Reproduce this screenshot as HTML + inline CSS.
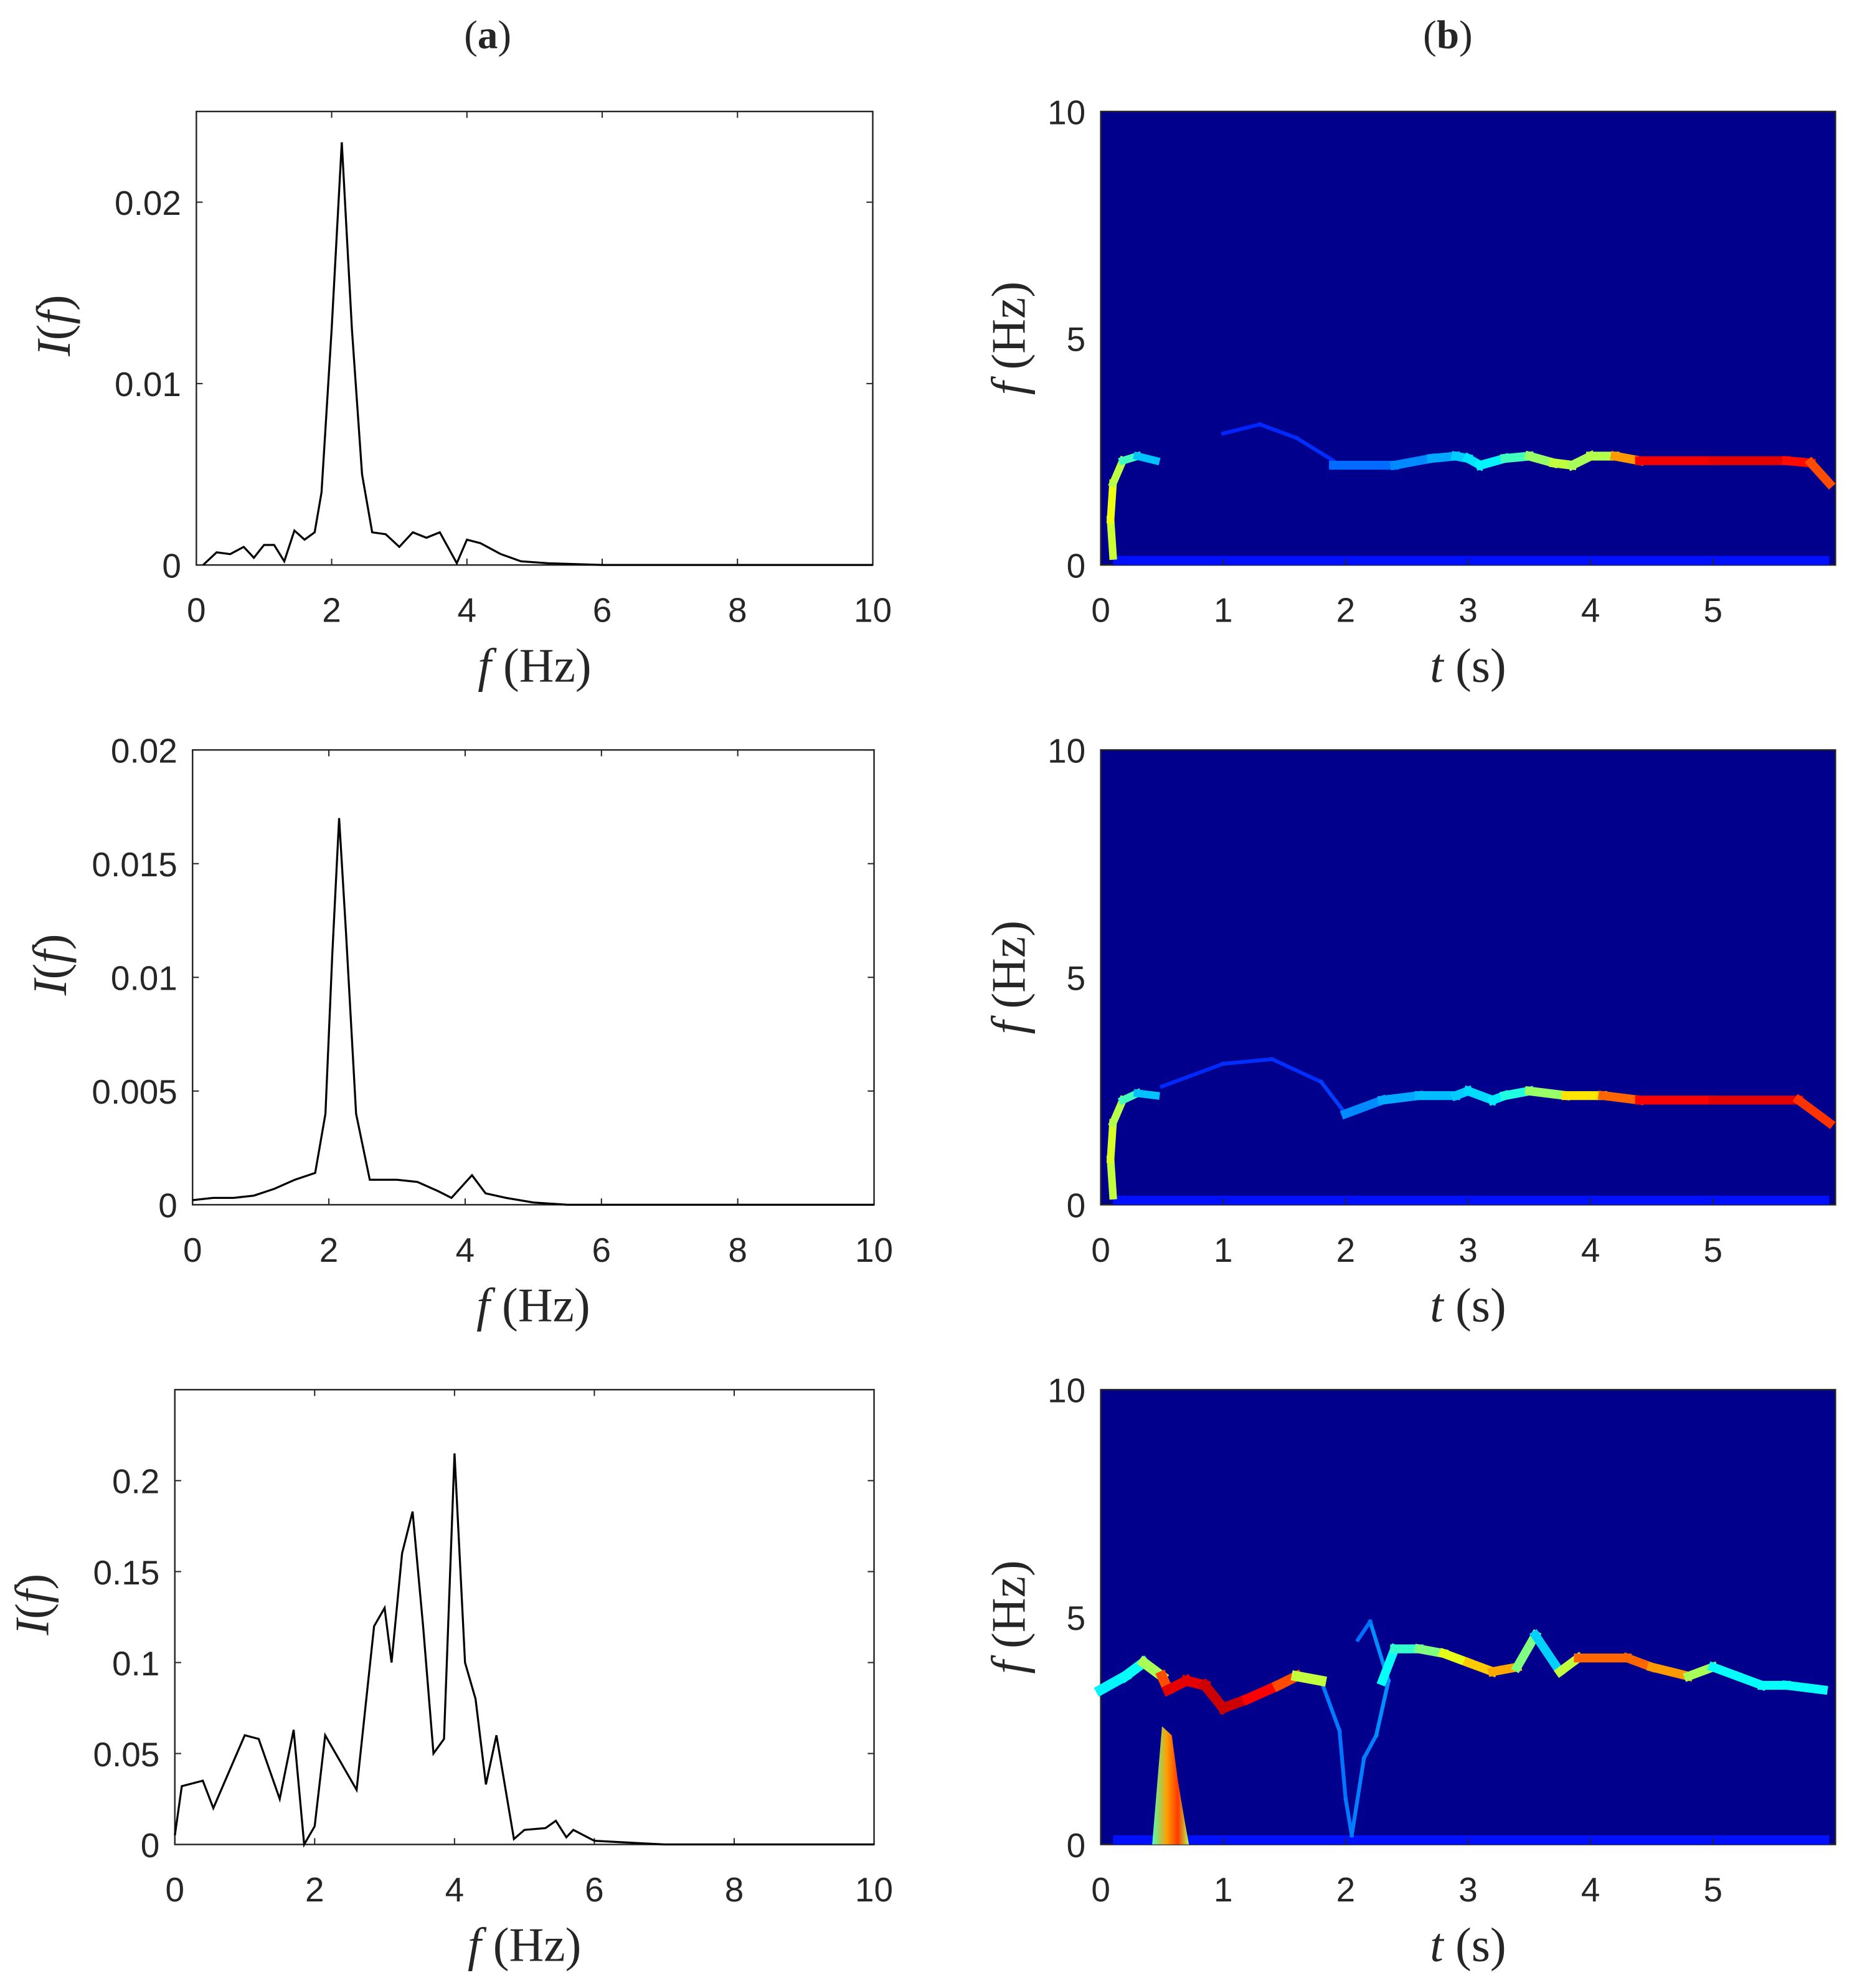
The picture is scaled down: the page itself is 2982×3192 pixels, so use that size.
<!DOCTYPE html>
<html><head><meta charset="utf-8"><style>
html,body{margin:0;padding:0;background:#fff;}
svg{display:block;}
text{font-family:"Liberation Sans",sans-serif;fill:#262626;}
.ser{font-family:"Liberation Serif",serif;}
</style></head><body>
<svg id="fig" width="2982" height="3192" viewBox="0 0 1466 1569.3" xmlns="http://www.w3.org/2000/svg">
<text class="ser" x="385" y="38" font-size="32" text-anchor="middle">(<tspan font-weight="bold">a</tspan>)</text>
<text class="ser" x="1143" y="38" font-size="32" text-anchor="middle">(<tspan font-weight="bold">b</tspan>)</text>
</svg>
<script>
// ---- spectrum data (a) ----
const a1F=[0.1,0.3,0.5,0.7,0.85,1,1.15,1.3,1.45,1.6,1.75,1.85,2.0,2.15,2.3,2.45,2.6,2.8,3.0,3.2,3.4,3.6,3.85,4.0,4.2,4.5,4.8,5.2,6,10];
const a1I=[0,0.0007,0.0006,0.001,0.0004,0.0011,0.0011,0.0002,0.0019,0.0014,0.0018,0.004,0.013,0.0233,0.013,0.005,0.0018,0.0017,0.001,0.0018,0.0015,0.0018,0.0001,0.0014,0.0012,0.0006,0.0002,0.0001,0,0];
const a2F=[0,0.3,0.6,0.9,1.2,1.5,1.8,1.95,2.05,2.15,2.25,2.4,2.6,3.0,3.3,3.6,3.8,4.1,4.3,4.6,5,5.5,10];
const a2I=[0.0002,0.0003,0.0003,0.0004,0.0007,0.0011,0.0014,0.004,0.011,0.017,0.012,0.004,0.0011,0.0011,0.001,0.0006,0.0003,0.0013,0.0005,0.0003,0.0001,0,0];
const a3F=[0,0.1,0.4,0.55,1.0,1.2,1.5,1.7,1.85,2.0,2.15,2.6,2.85,3.0,3.1,3.25,3.4,3.55,3.7,3.85,4.0,4.15,4.3,4.45,4.6,4.85,5.0,5.3,5.45,5.6,5.7,6.0,7,10];
const a3I=[0.005,0.032,0.035,0.02,0.06,0.058,0.025,0.063,0,0.01,0.06,0.03,0.12,0.13,0.1,0.16,0.183,0.12,0.05,0.058,0.215,0.1,0.08,0.033,0.06,0.003,0.008,0.009,0.013,0.004,0.008,0.002,0,0];
const a1Ticks=[0,0.01,0.02], a1TickLabels=["0","0.01","0.02"];
const a2Ticks=[0,0.005,0.01,0.015,0.02], a2TickLabels=["0","0.005","0.01","0.015","0.02"];
const a3Ticks=[0,0.05,0.1,0.15,0.2], a3TickLabels=["0","0.05","0.1","0.15","0.2"];
const fTicks=[0,2,4,6,8,10];
// ---- spectrogram ridges (b): t (s), f (Hz), intensity 0..1 ----
const b1T=[0.1,0.08,0.1,0.18,0.3,0.45], b1Fq=[0.2,1.0,1.8,2.3,2.4,2.3], b1V=[0.55,0.6,0.62,0.5,0.38,0.25];
const b1ArcT=[1.0,1.3,1.6,1.9], b1ArcF=[2.9,3.1,2.8,2.3], b1ArcV=[0.16,0.16,0.17,0.17];
const b1MT=[1.9,2.4,2.7,2.9,3.0,3.1,3.3,3.5,3.7,3.85,4.0,4.2,4.4,5.0,5.6,5.8,5.95], b1MF=[2.2,2.2,2.35,2.4,2.35,2.2,2.35,2.4,2.25,2.2,2.4,2.4,2.3,2.3,2.3,2.25,1.8], b1MV=[0.22,0.24,0.28,0.3,0.35,0.35,0.38,0.5,0.55,0.58,0.5,0.6,0.85,0.92,0.88,0.85,0.75];
const b2T=[0.1,0.08,0.1,0.18,0.3,0.45], b2Fq=[0.2,1.0,1.8,2.3,2.45,2.4], b2V=[0.55,0.58,0.6,0.5,0.38,0.25];
const b2ArcT=[0.5,1.0,1.4,1.8,2.0], b2ArcF=[2.6,3.1,3.2,2.7,2.0], b2ArcV=[0.16,0.17,0.17,0.17,0.2];
const b2MT=[2.0,2.3,2.6,2.9,3.0,3.2,3.3,3.5,3.8,4.1,4.4,5.0,5.7,5.95], b2MF=[2.0,2.3,2.4,2.4,2.5,2.3,2.4,2.5,2.4,2.4,2.3,2.3,2.3,1.8], b2MV=[0.24,0.28,0.3,0.32,0.33,0.35,0.36,0.45,0.6,0.7,0.85,0.9,0.9,0.75];
const b3T=[0,0.2,0.35,0.5,0.55,0.7,0.85,1.0,1.2,1.45,1.6,1.8], b3Fq=[3.4,3.7,4.0,3.7,3.4,3.6,3.5,3.0,3.2,3.5,3.7,3.6], b3V=[0.35,0.38,0.38,0.7,0.9,0.9,0.9,0.95,0.9,0.85,0.75,0.38];
const b3ArcT=[1.8,1.95,2.0,2.05,2.15,2.25,2.35,2.2,2.1], b3ArcF=[3.6,2.5,1.0,0.2,1.9,2.4,3.6,4.9,4.5], b3ArcV=[0.25,0.24,0.24,0.25,0.25,0.25,0.28,0.25,0.22];
const b3MT=[2.3,2.4,2.6,2.8,3.0,3.2,3.4,3.55,3.75,3.9,4.3,4.5,4.8,5.0,5.2,5.4,5.6,5.9], b3MF=[3.6,4.3,4.3,4.2,4.0,3.8,3.9,4.6,3.8,4.1,4.1,3.9,3.7,3.9,3.7,3.5,3.5,3.4], b3MV=[0.36,0.4,0.45,0.55,0.65,0.7,0.72,0.28,0.38,0.75,0.8,0.75,0.7,0.38,0.38,0.38,0.38,0.38];
const b3BlobT=[0.42,0.5,0.58,0.63,0.68,0.72,0.45], b3BlobF=[0,2.6,2.4,1.4,0.6,0,0];
const tTicks=[0,1,2,3,4,5], bTicks=[0,5,10];

const NS="http://www.w3.org/2000/svg";
const svg=document.getElementById('fig');
function el(tag,attrs,parent){const e=document.createElementNS(NS,tag);for(const k in attrs)e.setAttribute(k,attrs[k]);(parent||svg).appendChild(e);return e;}
function jet(v){v=Math.max(0,Math.min(1,v));const r=Math.max(0,Math.min(1,1.5-Math.abs(4*v-3))),g=Math.max(0,Math.min(1,1.5-Math.abs(4*v-2))),b=Math.max(0,Math.min(1,1.5-Math.abs(4*v-1)));return `rgb(${Math.round(r*255)},${Math.round(g*255)},${Math.round(b*255)})`;}

function lineAxes(name,L,R,T,B,ymax,F,I,ticks,labels){
  const sx=v=>L+(v/10)*(R-L), sy=v=>B-(v/ymax)*(B-T);
  const g=el('g',{});
  
  
  const fr=el('rect',{x:L,y:T,width:R-L,height:B-T,fill:'#fff',stroke:'#262626','stroke-width':1.2},g);
  
  
  fTicks.forEach(v=>{
    el('line',{x1:sx(v),x2:sx(v),y1:B,y2:B-5,stroke:'#262626'},g);
    el('line',{x1:sx(v),x2:sx(v),y1:T,y2:T+5,stroke:'#262626'},g);
    const t=el('text',{x:sx(v),y:B+45,'font-size':27,'text-anchor':'middle'},g);t.textContent=v;
    
    
  });
  ticks.forEach((v,i)=>{
    el('line',{x1:L,x2:L+5,y1:sy(v),y2:sy(v),stroke:'#262626'},g);
    el('line',{x1:R,x2:R-5,y1:sy(v),y2:sy(v),stroke:'#262626'},g);
    const t=el('text',{x:L-12,y:sy(v)+10,'font-size':27,'text-anchor':'end'},g);t.textContent=labels[i];
    
    
  });
  const pts=F.map((f,i)=>sx(f).toFixed(1)+','+sy(I[i]).toFixed(1)).join(' ');
  const pl=el('polyline',{points:pts,fill:'none',stroke:'#000','stroke-width':1.6},g);
  
  
  const xl=el('text',{class:'ser',x:(L+R)/2,y:B+92,'font-size':38,'text-anchor':'middle'},g);
  xl.innerHTML='<tspan font-style="italic">f</tspan>  (Hz)';
  
  
  const yl=el('text',{class:'ser',x:0,y:0,'font-size':38,'text-anchor':'middle',transform:`translate(${L-100},${(T+B)/2-10}) rotate(-90)`},g);
  yl.innerHTML='<tspan font-style="italic">I</tspan>(<tspan font-style="italic">f</tspan>)';
  
  
}
lineAxes('spectrum-plot-1',155,689,88,446,0.025,a1F,a1I,a1Ticks,a1TickLabels);
lineAxes('spectrum-plot-2',152,690,592,951,0.02,a2F,a2I,a2Ticks,a2TickLabels);
lineAxes('spectrum-plot-3',138,690,1097,1456,0.25,a3F,a3I,a3Ticks,a3TickLabels);

function specAxes(name,T,B,ridges,blob){
  const L=869,R=1449;
  const sx=v=>L+(v/6)*(R-L), sy=v=>B-(v/10)*(B-T);
  const g=el('g',{});
  
  
  const bg=el('rect',{x:L,y:T,width:R-L,height:B-T,fill:'#00008c',stroke:'#262626','stroke-width':1.2},g);
  
  
  const band=el('rect',{x:sx(0.1),y:sy(0.2),width:sx(5.95)-sx(0.1),height:sy(0)-sy(0.2),fill:jet(0.14)},g);
  
  
  if(blob){
    const pts=blob[0].map((t,i)=>sx(t)+','+sy(blob[1][i])).join(' ');
    const bp=el('polygon',{points:pts,fill:'url(#blobgrad)'},g);
    
    
  }
  ridges.forEach(([T_,F_,V_,w])=>{
    for(let i=0;i<T_.length-1;i++){
      const s=el('line',{x1:sx(T_[i]),y1:sy(F_[i]),x2:sx(T_[i+1]),y2:sy(F_[i+1]),stroke:jet((V_[i]+V_[i+1])/2),'stroke-width':w,'stroke-linecap':'square'},g);
      
      
    }
  });
  tTicks.forEach(v=>{
    el('line',{x1:sx(v),x2:sx(v),y1:B,y2:B-5,stroke:'#262626'},g);
    const t=el('text',{x:sx(v),y:B+45,'font-size':27,'text-anchor':'middle'},g);t.textContent=v;
    
    
  });
  bTicks.forEach(v=>{
    const t=el('text',{x:L-12,y:sy(v)+10,'font-size':27,'text-anchor':'end'},g);t.textContent=v;
    
    
  });
  const xl=el('text',{class:'ser',x:(L+R)/2,y:B+92,'font-size':38,'text-anchor':'middle'},g);
  xl.innerHTML='<tspan font-style="italic">t</tspan>  (s)';
  
  
  const yl=el('text',{class:'ser',x:0,y:0,'font-size':38,'text-anchor':'middle',transform:`translate(${L-60},${(T+B)/2}) rotate(-90)`},g);
  yl.innerHTML='<tspan font-style="italic">f</tspan>  (Hz)';
  
  
}
const defs=el('defs',{});
const lg=el('linearGradient',{id:'blobgrad',x1:0,y1:0,x2:1,y2:0},defs);
el('stop',{offset:'0',"stop-color":jet(0.45)},lg);
el('stop',{offset:'0.4',"stop-color":jet(0.72)},lg);
el('stop',{offset:'0.7',"stop-color":jet(0.82)},lg);
el('stop',{offset:'1',"stop-color":jet(0.55)},lg);
specAxes('spectrogram-1',88,446,[[b1ArcT,b1ArcF,b1ArcV,3],[b1T,b1Fq,b1V,6],[b1MT,b1MF,b1MV,7]]);
specAxes('spectrogram-2',592,951,[[b2ArcT,b2ArcF,b2ArcV,3],[b2T,b2Fq,b2V,6],[b2MT,b2MF,b2MV,7]]);
specAxes('spectrogram-3',1097,1456,[[b3ArcT,b3ArcF,b3ArcV,3],[b3T,b3Fq,b3V,8],[b3MT,b3MF,b3MV,7]],[b3BlobT,b3BlobF]);
</script>
</body></html>
